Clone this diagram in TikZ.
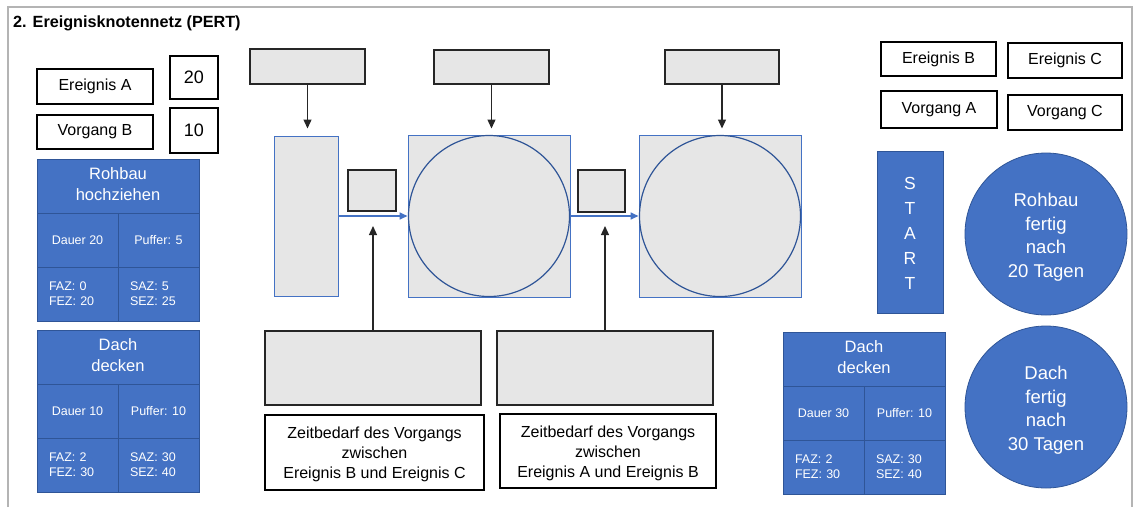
\documentclass[tikz,border=0pt]{standalone}
\usepackage{fontspec}
\setmainfont{Liberation Sans}
\usetikzlibrary{arrows.meta}
\definecolor{blau}{HTML}{4472C4}
\definecolor{blaurand}{HTML}{2F5597}
\definecolor{hellgrau}{HTML}{E6E6E6}
\definecolor{rahmen}{HTML}{B4B4B4}

\begin{document}
\begin{tikzpicture}[x=1pt,y=-1pt,
		etikett/.style={draw=black,line width=1.9pt,fill=white,inner sep=0pt,font=\fontsize{16}{20}\selectfont},
		zahl/.style={etikett,minimum width=48pt,font=\fontsize{18}{22}\selectfont},
		feld/.style={draw=black!85,line width=1.9pt,fill=hellgrau,inner sep=0pt},
		bauteil/.style={draw=blau,line width=1pt,fill=hellgrau,inner sep=0pt},
		zelle/.style={draw=blaurand,line width=0.8pt,fill=blau,text=white,inner sep=0pt,minimum width=81pt,minimum height=54pt,font=\fontsize{12.5}{15}\selectfont},
		kopf/.style={zelle,minimum width=162pt,font=\fontsize{16.5}{21}\selectfont},
		zeiten/.style={zelle,text width=57pt,inner xsep=12pt,align=left},
		knoten/.style={circle,draw=blaurand,line width=0.8pt,fill=blau,text=white,inner sep=0pt,minimum size=162pt,font=\fontsize{18.5}{23.5}\selectfont},
		pfeil/.style={-{Triangle[width=8pt,length=9pt]},line width=1.3pt,black!85},
		fluss/.style={-{Triangle[width=7pt,length=8pt]},line width=1.6pt,blau}]

		\useasboundingbox (0,0) rectangle (1136,507);
		\draw[rahmen,line width=2.5pt] (8,507) -- (8,7) -- (1132,7) -- (1132,507);

		\node[anchor=west,inner sep=0pt,font=\bfseries\fontsize{16.2}{19}\selectfont] (titel) at (13,23) {2. Ereignisknotennetz (PERT)};

		\node[etikett,minimum width=116pt,minimum height=35pt] (ereignisA) at (95,86.5) {Ereignis A};
		\node[etikett,minimum width=116pt,minimum height=34pt] (vorgangB) at (95,132) {Vorgang B};
		\node[zahl,minimum height=43pt] (zwanzig) at (194,77.5) {20};
		\node[zahl,minimum height=45pt] (zehn) at (194,130.5) {10};

		\node[kopf] (rohbau) at (118,186) {\begin{tabular}{c}Rohbau\\hochziehen\end{tabular}};
		\node[zelle] (rohbauD) at (77.5,240) {Dauer 20};
		\node[zelle] (rohbauP) at (158.5,240) {Puffer: 5};
		\node[zeiten] (rohbauF) at (77.5,294) {FAZ: 0\\FEZ: 20};
		\node[zeiten] (rohbauS) at (158.5,294) {SAZ: 5\\SEZ: 25};

		\node[kopf] (dach) at (118,357) {\begin{tabular}{c}Dach\\decken\end{tabular}};
		\node[zelle] (dachD) at (77.5,411) {Dauer 10};
		\node[zelle] (dachP) at (158.5,411) {Puffer: 10};
		\node[zeiten] (dachF) at (77.5,465) {FAZ: 2\\FEZ: 30};
		\node[zeiten] (dachS) at (158.5,465) {SAZ: 30\\SEZ: 40};

		\node[feld,minimum width=115pt,minimum height=35pt] (oben1) at (307.5,66.5) {};
		\node[feld,minimum width=115pt,minimum height=34pt] (oben2) at (491.5,67) {};
		\node[feld,minimum width=114pt,minimum height=34pt] (oben3) at (722,67) {};

		\node[bauteil,minimum width=64pt,minimum height=160pt] (rumpf) at (306,216) {};
		\node[bauteil,minimum size=162pt] (quad1) at (489,216) {};
		\node[bauteil,circle,draw=blaurand,line width=1.2pt,minimum size=161pt] (kreis1) at (489,216) {};
		\node[bauteil,minimum size=162pt] (quad2) at (720,216) {};
		\node[bauteil,circle,draw=blaurand,line width=1.2pt,minimum size=161pt] (kreis2) at (720,216) {};

		\node[feld,minimum width=48pt,minimum height=41pt] (klein1) at (372,190.5) {};
		\node[feld,minimum width=47pt,minimum height=42pt] (klein2) at (601.5,191) {};

		\draw[fluss] (rumpf.east) -- (quad1.west);
		\draw[fluss] (quad1.east) -- (quad2.west);

		\draw[pfeil,shorten >=7pt] (oben1) -- (oben1 |- rumpf.north);
		\draw[pfeil,shorten >=6pt] (oben2) -- (oben2 |- quad1.north);
		\draw[pfeil,shorten >=6pt] (oben3) -- (oben3 |- quad2.north);

		\node[feld,minimum width=216pt,minimum height=74pt] (unten1) at (373,368) {};
		\node[feld,minimum width=216pt,minimum height=74pt] (unten2) at (605,368) {};
		\coordinate (ziel1) at (373,226);
		\coordinate (ziel2) at (605,226);
		\draw[pfeil] (unten1) -- (ziel1);
		\draw[pfeil] (unten2) -- (ziel2);

		\node[etikett,minimum width=219pt,minimum height=75pt] (zeit1) at (374.5,452.5) {\begin{tabular}{c}\rule{0pt}{18pt}Zeitbedarf des Vorgangs\\zwischen\\Ereignis B und Ereignis C\end{tabular}};
		\node[etikett,minimum width=216pt,minimum height=74pt] (zeit2) at (608,451) {\begin{tabular}{c}\rule{0pt}{18pt}Zeitbedarf des Vorgangs\\zwischen\\Ereignis A und Ereignis B\end{tabular}};

		\node[etikett,minimum width=115pt,minimum height=34pt] (ereignisB) at (938.5,59) {Ereignis B};
		\node[etikett,minimum width=114pt,minimum height=35pt] (ereignisC) at (1065,60.5) {Ereignis C};
		\node[etikett,minimum width=116pt,minimum height=37pt] (vorgangA) at (939,109.5) {Vorgang A};
		\node[etikett,minimum width=114pt,minimum height=35pt] (vorgangC) at (1065,112.5) {Vorgang C};

		\node[zelle,minimum width=66pt,minimum height=162pt,font=\fontsize{17.5}{25}\selectfont] (start) at (910,232) {\begin{tabular}{c}\rule{0pt}{23pt}S\\T\\A\\R\\T\end{tabular}};
		\node[knoten] (rohbaufertig) at (1046,234) {\begin{tabular}{c}\rule{0pt}{23.5pt}Rohbau\\fertig\\nach\\20 Tagen\end{tabular}};
		\node[knoten] (dachfertig) at (1046,407) {\begin{tabular}{c}\rule{0pt}{23.5pt}Dach\\fertig\\nach\\30 Tagen\end{tabular}};

		\node[kopf] (dach2) at (864,359) {\begin{tabular}{c}Dach\\decken\end{tabular}};
		\node[zelle] (dach2D) at (823.5,413) {Dauer 30};
		\node[zelle] (dach2P) at (904.5,413) {Puffer: 10};
		\node[zeiten] (dach2F) at (823.5,467) {FAZ: 2\\FEZ: 30};
		\node[zeiten] (dach2S) at (904.5,467) {SAZ: 30\\SEZ: 40};
	\end{tikzpicture}
\end{document}
